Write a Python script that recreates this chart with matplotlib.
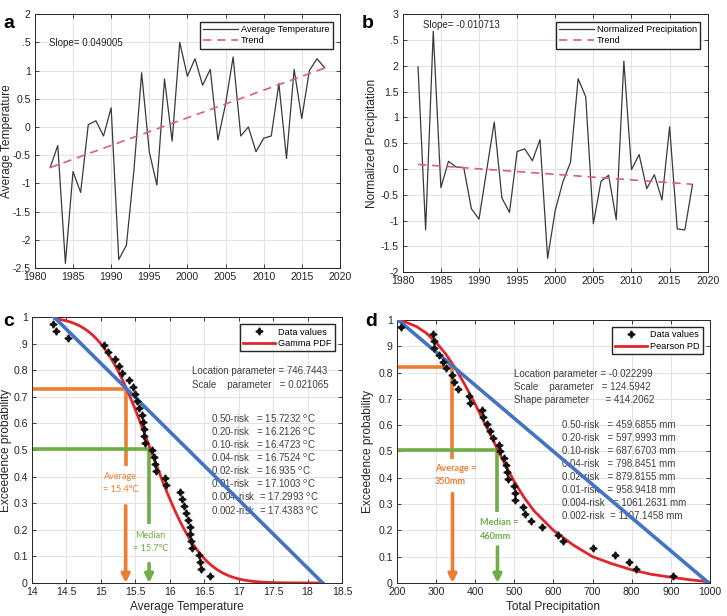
#!/usr/bin/env python3
"""
Temperature / precipitation trends and exceedence probability curves
"""
import math
import numpy as np
import matplotlib
matplotlib.use('Agg')
import matplotlib.pyplot as plt

plt.rcParams['font.family'] = ['Liberation Sans', 'DejaVu Sans']
plt.rcParams['mathtext.fontset'] = 'dejavusans'

# ---- data -------------------------------------------------------------
years = np.arange(1982, 2019)

avg_temp = [-0.72, -0.33, -2.42, -0.79, -1.16, 0.04, 0.11, -0.16, 0.34, -2.35,
            -2.10, -0.75, 0.96, -0.44, -1.03, 0.85, -0.25, 1.50, 0.90, 1.21,
            0.74, 1.02, -0.23, 0.40, 1.24, -0.16, 0.00, -0.44, -0.20, -0.16,
            0.77, -0.56, 1.02, 0.15, 1.00, 1.21, 1.05]
temp_slope = 0.049005
temp_icpt = -0.72          # trend value at 1982

norm_precip = [1.98, -1.18, 2.67, -0.36, 0.15, 0.04, 0.03, -0.77, -0.97, -0.03,
               0.91, -0.56, -0.84, 0.34, 0.39, 0.16, 0.57, -1.73, -0.80, -0.25,
               0.13, 1.75, 1.40, -1.06, -0.24, -0.12, -0.98, 2.09, -0.01, 0.28,
               -0.38, -0.11, -0.60, 0.82, -1.16, -1.18, -0.30]
precip_slope = -0.010713
precip_icpt = 0.09         # trend value at 1982

exc_prob = [0.974, 0.947, 0.921, 0.895, 0.868, 0.842, 0.816, 0.789, 0.763, 0.737,
            0.711, 0.684, 0.658, 0.632, 0.605, 0.579, 0.553, 0.526, 0.500, 0.474,
            0.447, 0.421, 0.395, 0.368, 0.342, 0.316, 0.289, 0.263, 0.237, 0.211,
            0.184, 0.158, 0.132, 0.105, 0.079, 0.053, 0.026]

temp_sorted = [14.31, 14.35, 14.53, 15.05, 15.11, 15.21, 15.27, 15.31, 15.41, 15.47,
               15.49, 15.52, 15.56, 15.59, 15.61, 15.62, 15.63, 15.64, 15.74, 15.77,
               15.79, 15.80, 15.93, 15.95, 16.15, 16.18, 16.20, 16.23, 16.26, 16.29,
               16.30, 16.31, 16.32, 16.42, 16.44, 16.45, 16.59]

precip_sorted = [210, 292, 294, 296, 308, 318, 326, 340, 347, 356,
                 383, 387, 417, 421, 431, 438, 446, 460, 464, 474,
                 478, 482, 484, 500, 501, 502, 523, 527, 542, 570,
                 612, 625, 702, 757, 794, 811, 905]

# gamma fit (panel c)
gamma_shape = 746.7443
gamma_scale = 0.021065
gamma_range = (14.33, 18.2)

# Pearson fit curve (panel d)
pearson_x = [205, 225, 250, 275, 300, 325, 350, 375, 400, 425, 450, 475, 500, 525,
             550, 600, 650, 700, 750, 800, 850, 900, 950, 995]
pearson_y = [1.0, 0.99, 0.975, 0.95, 0.915, 0.87, 0.815, 0.75, 0.68, 0.605, 0.53,
             0.455, 0.385, 0.325, 0.275, 0.20, 0.145, 0.10, 0.073, 0.05, 0.033,
             0.022, 0.012, 0.005]

# straight reference lines
temp_line = ([14.32, 18.22], [1.0, 0.0])
precip_line = ([203, 997], [1.0, 0.0])

temp_mean, temp_mean_p = 15.36, 0.73
temp_median, temp_median_p = 15.70, 0.505
precip_mean, precip_mean_p = 342, 0.82
precip_median, precip_median_p = 457, 0.505

temp_params = ['Location parameter = 746.7443',
               'Scale    parameter   = 0.021065']
temp_risk = ['0.50-risk   = 15.7232', '0.20-risk   = 16.2126', '0.10-risk   = 16.4723',
             '0.04-risk   = 16.7524', '0.02-risk   = 16.935', '0.01-risk   = 17.1003',
             '0.004-risk  = 17.2993', '0.002-risk  = 17.4383']
precip_params = ['Location parameter = -0.022299',
                 'Scale    parameter   = 124.5942',
                 'Shape parameter      = 414.2062']
precip_risk = ['0.50-risk   = 459.6855 mm', '0.20-risk   = 597.9993 mm',
               '0.10-risk   = 687.6703 mm', '0.04-risk   = 798.8451 mm',
               '0.02-risk   = 879.8155 mm', '0.01-risk   = 958.9418 mm',
               '0.004-risk   = 1061.2631 mm', '0.002-risk  = 1107.1458 mm']

# ---- styles -----------------------------------------------------------
AX_COL = '#262626'
TXT_COL = '#404040'
GRID_COL = '#e3e3e3'
ORANGE = '#ED7D31'
GREEN = '#70AD47'
BLUE = '#4472C4'
RED = '#E0262B'
STAR = (4, 1, 0)
TICK_FS = 7.6
LABEL_FS = 8.6
NOTE_FS = 7.0
LEG_FS = 6.6


def style_axes(ax):
    ax.grid(True, color=GRID_COL, lw=0.8)
    ax.set_axisbelow(True)
    for s in ax.spines.values():
        s.set_color(AX_COL)
        s.set_linewidth(0.7)
    ax.tick_params(direction='in', length=3, width=0.6, colors=AX_COL,
                   labelsize=TICK_FS, top=True, right=True, pad=3)


def add_legend(ax, handles=None, hlen=3.8):
    ax.legend(handles=handles, loc='upper right', fontsize=LEG_FS, frameon=True,
              fancybox=False, edgecolor=AX_COL, framealpha=1, handlelength=hlen,
              borderpad=0.35, labelspacing=0.3, handletextpad=0.3, borderaxespad=0.8)


def gamma_sf(x_lo, x_hi, k, theta):
    grid = np.linspace(x_lo - 4, x_hi + 2, 6001)
    logpdf = (k - 1) * np.log(grid) - grid / theta - math.lgamma(k) - k * math.log(theta)
    pdf = np.exp(logpdf)
    cdf = np.concatenate([[0], np.cumsum(0.5 * (pdf[1:] + pdf[:-1]) * np.diff(grid))])
    keep = (grid >= x_lo) & (grid <= x_hi)
    return grid[keep], 1 - cdf[keep]


def marker_line(ax, x, y, x0, gap_top, gap_bot, color):
    ax.plot([x0, x], [y, y], color=color, lw=2.6, zorder=2, solid_capstyle='butt')
    ax.plot([x, x], [y, gap_top], color=color, lw=2.6, zorder=2, solid_capstyle='butt')
    ax.annotate('', xy=(x, 0.0), xytext=(x, gap_bot),
                arrowprops=dict(arrowstyle='-|>', color=color, lw=2.6,
                                mutation_scale=12, shrinkA=0, shrinkB=0),
                zorder=2)


fig = plt.figure(figsize=(7.27, 6.16), dpi=100)

# ---- panel a ----------------------------------------------------------
ax = fig.add_axes([0.048, 0.565, 0.4195, 0.412])
ax.plot(years, avg_temp, color='#3a3a3a', lw=0.9, label='Average Temperature')
trend = temp_icpt + temp_slope * (years - years[0])
ax.plot(years, trend, color='#D8607A', lw=1.2, ls=(0, (5, 3.5)), label='Trend')
ax.set_xlim(1980, 2020)
ax.set_ylim(-2.5, 2)
ax.set_xticks(range(1980, 2021, 5))
ax.set_yticks(np.arange(-2.5, 2.01, 0.5))
ax.set_yticklabels(['-2.5', '-2', '-1.5', '-1', '-0.5', '0', '0.5', '1', '.5', '2'])
ax.set_ylabel('Average Temperature', fontsize=LABEL_FS, color=AX_COL)
ax.yaxis.set_label_coords(-0.072, 0.5)
ax.text(1981.9, 1.49, 'Slope= 0.049005', fontsize=NOTE_FS, color=AX_COL, va='center')
style_axes(ax)
add_legend(ax)

# ---- panel b ----------------------------------------------------------
ax = fig.add_axes([0.554, 0.558, 0.4195, 0.419])
ax.plot(years, norm_precip, color='#3a3a3a', lw=0.9, label='Normalized Precipitation')
trend = precip_icpt + precip_slope * (years - years[0])
ax.plot(years, trend, color='#D8607A', lw=1.2, ls=(0, (5, 3.5)), label='Trend')
ax.set_xlim(1980, 2020)
ax.set_ylim(-2, 3)
ax.set_xticks(range(1980, 2021, 5))
ax.set_yticks(np.arange(-2, 3.01, 0.5))
ax.set_yticklabels(['-2', '-1.5', '-1', '-0.5', '0', '0.5', '1', '1.5', '2', '.5', '3'])
ax.set_ylabel('Normalized Precipitation', fontsize=LABEL_FS, color=AX_COL)
ax.yaxis.set_label_coords(-0.082, 0.5)
ax.text(1982.6, 2.79, 'Slope= -0.010713', fontsize=NOTE_FS, color=AX_COL, va='center')
style_axes(ax)
add_legend(ax)

# ---- panel c ----------------------------------------------------------
ax = fig.add_axes([0.044, 0.0536, 0.4264, 0.4318])
marker_line(ax, temp_mean, temp_mean_p, 14.0, 0.44, 0.29, ORANGE)
marker_line(ax, temp_median, temp_median_p, 14.0, 0.223, 0.073, GREEN)
ax.text(15.29, 0.375, 'Average\n= 15.4°C', color=ORANGE, fontsize=6.6, ha='center',
        va='center', family=['Lato', 'DejaVu Sans'], linespacing=1.6)
ax.text(15.72, 0.155, 'Median\n= 15.7°C', color=GREEN, fontsize=6.6, ha='center',
        va='center', family=['Lato', 'DejaVu Sans'], linespacing=1.6)
gx, gy = gamma_sf(gamma_range[0], gamma_range[1], gamma_shape, gamma_scale)
pdf_line, = ax.plot(gx, gy, color=RED, lw=2.0, zorder=4, label='Gamma PDF')
ax.plot(*temp_line, color=BLUE, lw=2.6, zorder=5)
pts, = ax.plot(temp_sorted, exc_prob, ls='none', marker=STAR, ms=5.2, color='#111111',
               zorder=6, label='Data values')
ax.set_xlim(14, 18.5)
ax.set_ylim(0, 1)
ax.set_xticks(np.arange(14, 18.51, 0.5))
ax.set_xticklabels(['14', '14.5', '15', '15.5', '16', '16.5', '17', '17.5', '18', '18.5'])
ax.set_yticks(np.arange(0, 1.01, 0.1))
ax.set_yticklabels(['0', '0.1', '0.2', '0.3', '0.4', '0.5', '0.6', '0.7', '0.8', '.9', '1'])
ax.set_xlabel('Average Temperature', fontsize=LABEL_FS, color=AX_COL, labelpad=3)
ax.set_ylabel('Exceedence probability', fontsize=LABEL_FS, color=AX_COL)
ax.yaxis.set_label_coords(-0.066, 0.5)
for i, s in enumerate(temp_params):
    ax.text(16.33, 0.796 - 0.05 * i, s, fontsize=NOTE_FS, color=TXT_COL, va='center',
            zorder=1)
for i, s in enumerate(temp_risk):
    ax.text(16.60, 0.618 - 0.0493 * i, s + ' $^{\\mathrm{o}}$C', fontsize=NOTE_FS,
            color=TXT_COL, va='center', zorder=1)
style_axes(ax)
add_legend(ax, [pts, pdf_line], 3.5)

# ---- panel d ----------------------------------------------------------
ax = fig.add_axes([0.546, 0.0536, 0.4305, 0.427])
marker_line(ax, precip_mean, precip_mean_p, 200, 0.47, 0.34, ORANGE)
marker_line(ax, precip_median, precip_median_p, 200, 0.27, 0.137, GREEN)
ax.text(297, 0.41, 'Average =\n350mm', color=ORANGE, fontsize=6.6, ha='left',
        va='center', weight='bold', family=['Lato', 'DejaVu Sans'], linespacing=1.6)
ax.text(412, 0.203, 'Median =\n460mm', color=GREEN, fontsize=6.6, ha='left',
        va='center', weight='bold', family=['Lato', 'DejaVu Sans'], linespacing=1.6)
pdf_line, = ax.plot(pearson_x, pearson_y, color=RED, lw=2.0, zorder=4, label='Pearson PD')
ax.plot(*precip_line, color=BLUE, lw=2.6, zorder=5)
pts, = ax.plot(precip_sorted, exc_prob, ls='none', marker=STAR, ms=5.2, color='#111111',
               zorder=6, label='Data values')
ax.set_xlim(200, 1000)
ax.set_ylim(0, 1)
ax.set_xticks(range(200, 1001, 100))
ax.set_yticks(np.arange(0, 1.01, 0.1))
ax.set_yticklabels(['0', '0.1', '0.2', '0.3', '0.4', '0.5', '0.6', '0.7', '0.8', '9', '1'])
ax.set_xlabel('Total Precipitation', fontsize=LABEL_FS, color=AX_COL, labelpad=3)
ax.set_ylabel('Exceedence probability', fontsize=LABEL_FS, color=AX_COL)
ax.yaxis.set_label_coords(-0.073, 0.5)
for i, s in enumerate(precip_params):
    ax.text(500, 0.794 - 0.0495 * i, s, fontsize=NOTE_FS, color=TXT_COL, va='center',
            zorder=1)
for i, s in enumerate(precip_risk):
    ax.text(621, 0.600 - 0.0494 * i, s, fontsize=NOTE_FS, color=TXT_COL, va='center',
            zorder=1)
style_axes(ax)
add_legend(ax, [pts, pdf_line], 3.5)

# panel letters
for lx, ly, letter in [(0.004, 0.975, 'a'), (0.498, 0.975, 'b'),
                       (0.004, 0.492, 'c'), (0.502, 0.492, 'd')]:
    fig.text(lx, ly, letter, fontsize=14, weight='bold', va='top')

fig.savefig('out.png', dpi=100)
